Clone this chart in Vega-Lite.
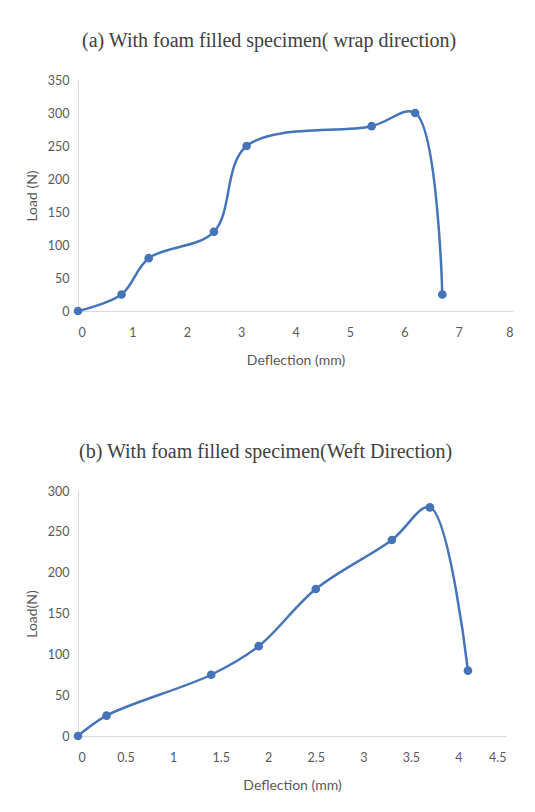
{
  "$schema": "https://vega.github.io/schema/vega-lite/v6.json",
  "background": "white",
  "padding": {"top": 31, "left": 25, "right": 10, "bottom": 10},
  "spacing": 74,
  "config": {
    "view": {"stroke": null},
    "axis": {
      "domainColor": "#d9d9d9",
      "domainWidth": 1,
      "ticks": false,
      "grid": false,
      "labelColor": "#595959",
      "labelFont": "Lato",
      "labelFontSize": 12.5,
      "titleColor": "#595959",
      "titleFont": "Lato",
      "titleFontSize": 14,
      "titleFontWeight": "normal"
    },
    "title": {
      "font": "Liberation Serif",
      "fontSize": 20,
      "fontWeight": "normal",
      "color": "#404040",
      "anchor": "middle",
      "frame": "bounds",
      "offset": 23
    }
  },
  "datasets": {
    "wrap": [
      {"deflection": 0, "load": 0},
      {"deflection": 0.8, "load": 25},
      {"deflection": 1.3, "load": 80},
      {"deflection": 2.5, "load": 120},
      {"deflection": 3.1, "load": 250},
      {"deflection": 5.4, "load": 280},
      {"deflection": 6.2, "load": 300},
      {"deflection": 6.7, "load": 25}
    ],
    "weft": [
      {"deflection": 0, "load": 0},
      {"deflection": 0.3, "load": 25},
      {"deflection": 1.4, "load": 75},
      {"deflection": 1.9, "load": 110},
      {"deflection": 2.5, "load": 180},
      {"deflection": 3.3, "load": 240},
      {"deflection": 3.7, "load": 280},
      {"deflection": 4.1, "load": 80}
    ]
  },
  "vconcat": [
    {
      "title": {"text": "(a) With foam filled specimen( wrap direction)"},
      "width": 435,
      "height": 231,
      "data": {"name": "wrap"},
      "encoding": {
        "x": {
          "field": "deflection",
          "type": "quantitative",
          "scale": {"domain": [0, 8], "nice": false},
          "axis": {"values": [0, 1, 2, 3, 4, 5, 6, 7, 8], "format": "~g", "title": "Deflection (mm)", "labelPadding": 15, "titlePadding": 15}
        },
        "y": {
          "field": "load",
          "type": "quantitative",
          "scale": {"domain": [0, 350], "nice": false},
          "axis": {"values": [0, 50, 100, 150, 200, 250, 300, 350], "title": "Load (N)", "labelPadding": 9, "titlePadding": 8}
        }
      },
      "layer": [
        {"mark": {"type": "line", "interpolate": "catmull-rom", "strokeWidth": 2.5, "color": "#4674B9"}},
        {"mark": {"type": "point", "filled": true, "size": 75, "opacity": 1, "color": "#4674B9"}}
      ]
    },
    {
      "title": {"text": "(b) With foam filled specimen(Weft Direction)"},
      "width": 428,
      "height": 245,
      "data": {"name": "weft"},
      "encoding": {
        "x": {
          "field": "deflection",
          "type": "quantitative",
          "scale": {"domain": [0, 4.5], "nice": false},
          "axis": {"values": [0, 0.5, 1, 1.5, 2, 2.5, 3, 3.5, 4, 4.5], "format": "~g", "title": "Deflection (mm)", "labelPadding": 15, "titlePadding": 15}
        },
        "y": {
          "field": "load",
          "type": "quantitative",
          "scale": {"domain": [0, 300], "nice": false},
          "axis": {"values": [0, 50, 100, 150, 200, 250, 300], "title": "Load(N)", "labelPadding": 9, "titlePadding": 8}
        }
      },
      "layer": [
        {"mark": {"type": "line", "interpolate": "catmull-rom", "strokeWidth": 2.5, "color": "#4674B9"}},
        {"mark": {"type": "point", "filled": true, "size": 75, "opacity": 1, "color": "#4674B9"}}
      ]
    }
  ]
}
